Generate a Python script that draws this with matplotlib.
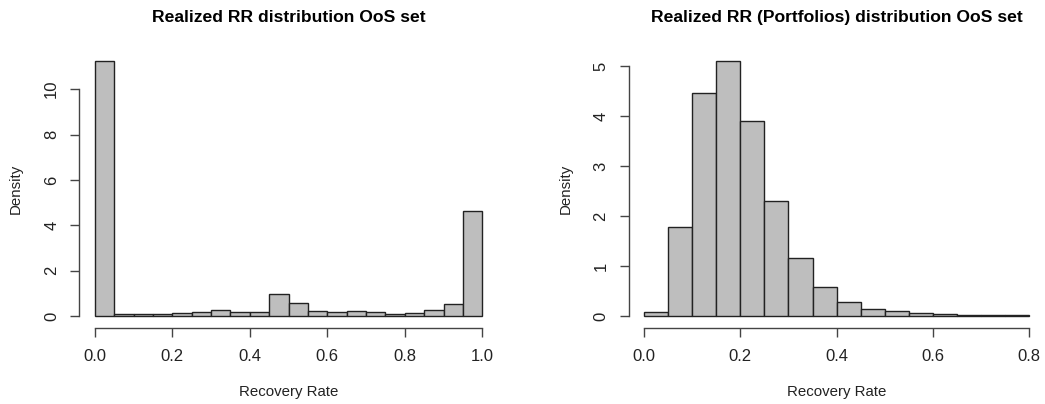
import numpy as np
import matplotlib
matplotlib.use("Agg")
import matplotlib.pyplot as plt

plt.rcParams['font.family'] = ['Liberation Sans', 'DejaVu Sans']

BIN_WIDTH = 0.05

# left panel: all exposures, density per 0.05 bin over [0, 1]
rr_density = [11.25, 0.08, 0.07, 0.08, 0.12, 0.16, 0.26, 0.18, 0.18, 0.96,
              0.56, 0.22, 0.18, 0.22, 0.18, 0.10, 0.12, 0.26, 0.51, 4.63]
rr_xticks = [0.0, 0.2, 0.4, 0.6, 0.8, 1.0]
rr_yticks = [0, 2, 4, 6, 8, 10]

# right panel: portfolios, density per 0.05 bin over [0, 0.8]
pf_density = [0.085, 1.79, 4.47, 5.10, 3.90, 2.30, 1.17, 0.58, 0.29, 0.15,
              0.10, 0.06, 0.04, 0.027, 0.02, 0.013]
pf_xticks = [0.0, 0.2, 0.4, 0.6, 0.8]
pf_yticks = [0, 1, 2, 3, 4, 5]

W, H = 1045, 404
fig = plt.figure(figsize=(W / 100, H / 100), dpi=100)


def px_axes(left, right, bottom, top):
    # pixel box (from top-left) -> figure fraction
    return fig.add_axes([left / W, 1 - bottom / H, (right - left) / W, (bottom - top) / H])


def r_hist(ax, density, xticks, yticks, xlim, ylim, title):
    edges = np.arange(len(density)) * BIN_WIDTH
    ax.bar(edges, density, width=BIN_WIDTH, align='edge',
           color='#bebebe', edgecolor='#222222', linewidth=1.0)
    ax.set_xlim(*xlim)
    ax.set_ylim(*ylim)
    for s in ['top', 'right']:
        ax.spines[s].set_visible(False)
    ax.spines['left'].set_bounds(yticks[0], yticks[-1])
    ax.spines['bottom'].set_bounds(xticks[0], xticks[-1])
    for s in ['left', 'bottom']:
        ax.spines[s].set_color('#444444')
        ax.spines[s].set_linewidth(1.0)
    ax.set_xticks(xticks)
    ax.set_xticklabels([f"{t:.1f}" for t in xticks])
    ax.set_yticks(yticks)
    ax.set_yticklabels([str(t) for t in yticks], rotation=90, va='center')
    ax.tick_params(length=6.5, width=1.0, color='#444444', labelsize=12,
                   labelcolor='#222222')
    ax.tick_params(axis='x', pad=8.5)
    ax.tick_params(axis='y', pad=8)
    ax.set_title(title, fontsize=12.6, fontweight='bold', pad=20.5)


ax1 = px_axes(79.3, 497.8, 328, 50.7)
r_hist(ax1, rr_density, rr_xticks, rr_yticks, (-0.04, 1.04), (-0.53, 11.7),
       "Realized RR distribution OoS set")

ax2 = px_axes(628.6, 1044.7, 328, 50.8)
r_hist(ax2, pf_density, pf_xticks, pf_yticks, (-0.032, 0.832), (-0.24, 5.304),
       "Realized RR (Portfolios) distribution OoS set")

for cx in [288.5, 836.6]:
    fig.text(cx / W, 1 - 391.7 / H, "Recovery Rate", ha='center', va='center',
             fontsize=10.8, color='#222222')
for cx in [16, 566]:
    fig.text(cx / W, 1 - 189 / H, "Density", ha='center', va='center',
             rotation=90, fontsize=10.8, color='#222222')

fig.savefig("out.png", dpi=100)
